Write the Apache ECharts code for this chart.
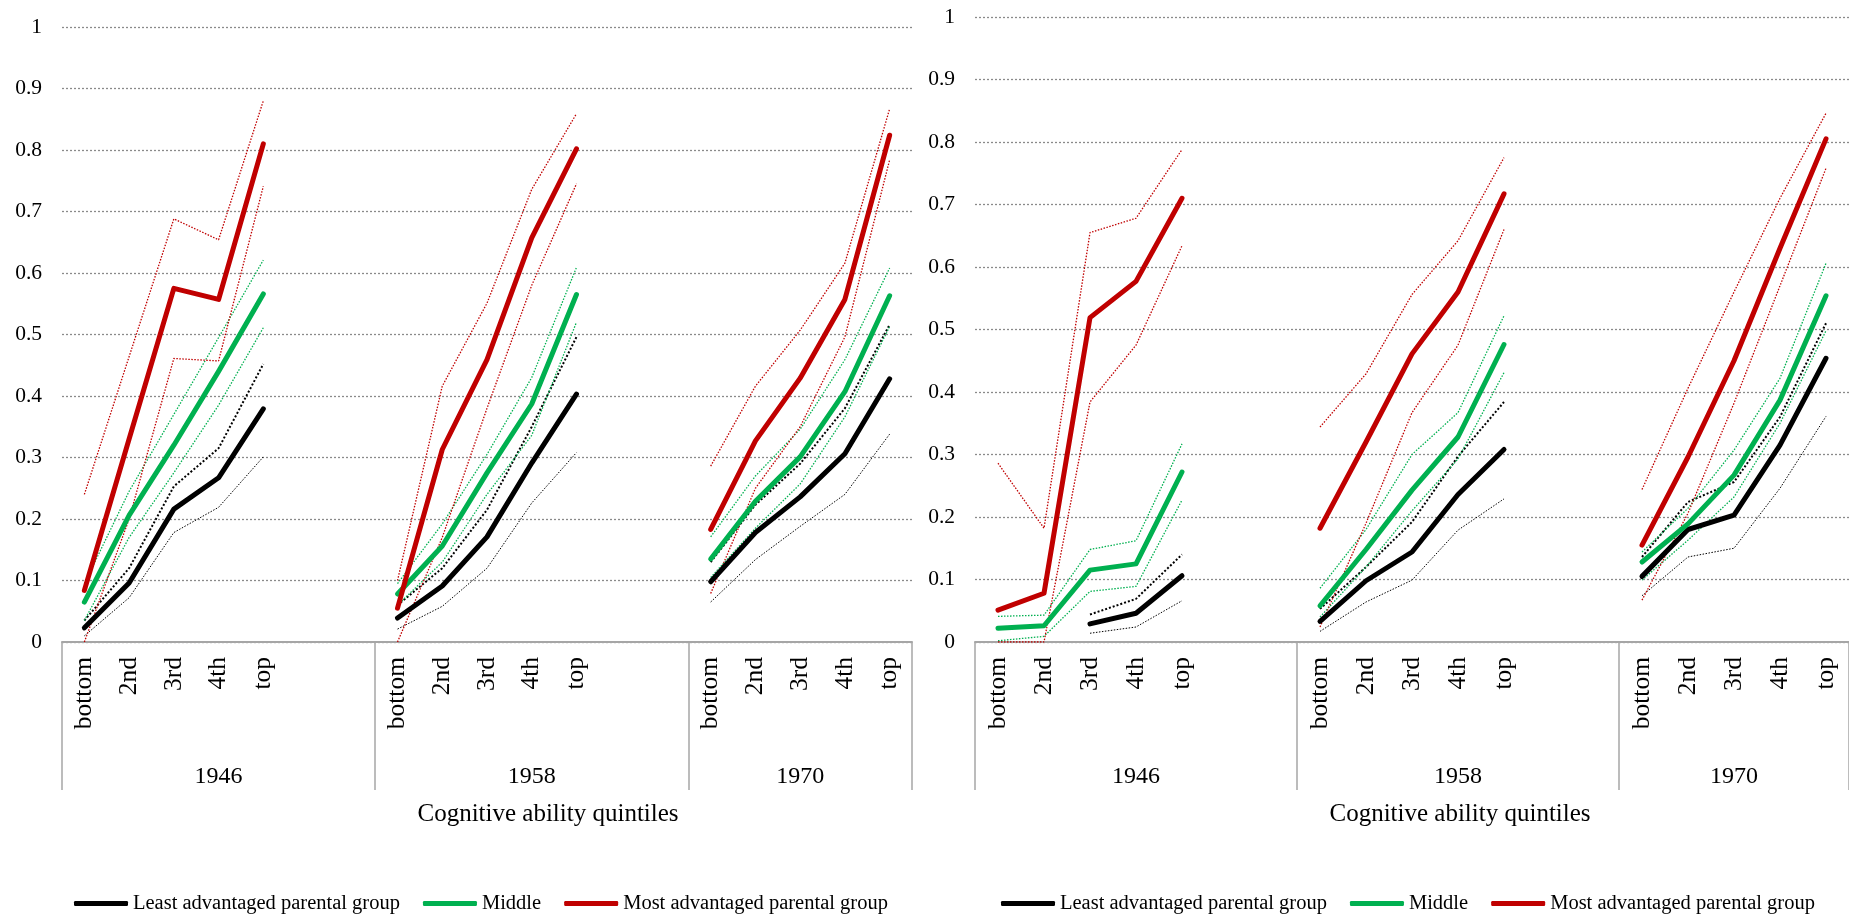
<!DOCTYPE html>
<html>
<head>
<meta charset="utf-8">
<style>
  html, body { margin: 0; padding: 0; background: #ffffff; }
  #chart { width: 1849px; height: 914px; }
</style>
<script src="https://cdn.jsdelivr.net/npm/echarts@6/dist/echarts.min.js"></script>
</head>
<body>
<div id="chart"></div>
<script>
// ---------------- DATA ----------------
const quintiles = ['bottom', '2nd', '3rd', '4th', 'top'];
const cohorts = ['1946', '1958', '1970'];
const groupNames = ['Least advantaged parental group', 'Middle', 'Most advantaged parental group'];
const axisTitle = 'Cognitive ability quintiles';
const yTicks = [0, 0.1, 0.2, 0.3, 0.4, 0.5, 0.6, 0.7, 0.8, 0.9, 1];

// LEFT panel: values per cohort (1946, 1958, 1970), each over the 5 quintiles
const leftLeast      = [[0.023, 0.096, 0.216, 0.267, 0.379], [0.039, 0.091, 0.171, 0.291, 0.403], [0.098, 0.178, 0.236, 0.306, 0.428]];
const leftLeastHi    = [[0.035, 0.120, 0.253, 0.315, 0.452], [0.060, 0.120, 0.215, 0.350, 0.496], [0.130, 0.223, 0.290, 0.380, 0.516]];
const leftLeastLo    = [[0.010, 0.072, 0.178, 0.219, 0.301], [0.021, 0.058, 0.120, 0.226, 0.308], [0.065, 0.134, 0.188, 0.240, 0.338]];
const leftMiddle     = [[0.065, 0.206, 0.320, 0.440, 0.566], [0.078, 0.156, 0.275, 0.387, 0.565], [0.135, 0.229, 0.301, 0.407, 0.563]];
const leftMiddleHi   = [[0.095, 0.245, 0.370, 0.495, 0.621], [0.095, 0.192, 0.305, 0.430, 0.609], [0.171, 0.270, 0.346, 0.459, 0.608]];
const leftMiddleLo   = [[0.035, 0.170, 0.275, 0.385, 0.511], [0.060, 0.130, 0.240, 0.336, 0.520], [0.105, 0.185, 0.257, 0.366, 0.513]];
const leftMost       = [[0.084, 0.330, 0.575, 0.557, 0.810], [0.055, 0.313, 0.459, 0.657, 0.802], [0.183, 0.327, 0.429, 0.557, 0.824]];
const leftMostHi     = [[0.240, 0.464, 0.688, 0.654, 0.880], [0.100, 0.416, 0.551, 0.736, 0.859], [0.286, 0.416, 0.507, 0.616, 0.867]];
const leftMostLo     = [[0.000, 0.200, 0.461, 0.457, 0.741], [0.000, 0.170, 0.380, 0.580, 0.745], [0.079, 0.250, 0.350, 0.496, 0.784]];

// RIGHT panel
const rightLeast     = [[null, null, 0.029, 0.046, 0.106], [0.033, 0.098, 0.144, 0.236, 0.308], [0.105, 0.180, 0.203, 0.315, 0.454]];
const rightLeastHi   = [[null, null, 0.044, 0.069, 0.140], [0.053, 0.120, 0.192, 0.297, 0.384], [0.136, 0.224, 0.256, 0.360, 0.510]];
const rightLeastLo   = [[null, null, 0.014, 0.024, 0.066], [0.017, 0.064, 0.099, 0.179, 0.229], [0.074, 0.136, 0.150, 0.246, 0.361]];
const rightMiddle    = [[0.022, 0.026, 0.115, 0.125, 0.272], [0.058, 0.148, 0.243, 0.328, 0.476], [0.128, 0.189, 0.267, 0.387, 0.554]];
const rightMiddleHi  = [[0.041, 0.043, 0.148, 0.162, 0.317], [0.086, 0.180, 0.300, 0.367, 0.522], [0.144, 0.214, 0.307, 0.422, 0.606]];
const rightMiddleLo  = [[0.002, 0.009, 0.081, 0.089, 0.227], [0.040, 0.120, 0.210, 0.293, 0.431], [0.099, 0.163, 0.232, 0.350, 0.498]];
const rightMost      = [[0.051, 0.078, 0.519, 0.577, 0.710], [0.182, 0.320, 0.461, 0.560, 0.717], [0.155, 0.296, 0.450, 0.630, 0.805]];
const rightMostHi    = [[0.286, 0.182, 0.655, 0.678, 0.788], [0.344, 0.429, 0.556, 0.642, 0.775], [0.244, 0.406, 0.560, 0.710, 0.846]];
const rightMostLo    = [[0.000, 0.000, 0.384, 0.475, 0.634], [0.024, 0.190, 0.367, 0.475, 0.660], [0.067, 0.206, 0.382, 0.570, 0.758]];

// ---------------- BUILD ----------------
const SPACER = 2; // empty categories between cohorts
const FONT = '"Liberation Serif", "DejaVu Serif", serif';
const COLORS = ['#000000', '#00B050', '#C00000'];

const groupStarts = [];
const categories = [];
cohorts.forEach((c, gi) => {
  groupStarts.push(categories.length);
  quintiles.forEach(q => categories.push(q));
  if (gi < cohorts.length - 1) for (let k = 0; k < SPACER; k++) categories.push('');
});
const groupLabels = categories.map(() => '');
cohorts.forEach((c, gi) => {
  const s = groupStarts[gi];
  const span = (gi < cohorts.length - 1) ? quintiles.length + SPACER : quintiles.length;
  groupLabels[s + Math.floor(span / 2)] = c;
});

function flat(perCohort) {
  const out = categories.map(() => null);
  perCohort.forEach((vals, gi) => {
    vals.forEach((v, qi) => { out[groupStarts[gi] + qi] = v; });
  });
  return out;
}

function panelAxes(gridIndex) {
  const main = {
    type: 'category', gridIndex: gridIndex, data: categories, boundaryGap: true,
    axisLine: { show: true, lineStyle: { color: '#A6A6A6', width: 2 } },
    axisTick: { show: false },
    axisLabel: { interval: 0, rotate: 90, margin: 15, fontSize: 25.5, color: '#000', fontFamily: FONT },
    splitLine: { show: false }
  };
  const group = {
    type: 'category', gridIndex: gridIndex, data: groupLabels, boundaryGap: true, position: 'bottom',
    axisLine: { show: false },
    axisTick: { show: true, length: 148, interval: function (idx) { return groupStarts.indexOf(idx) >= 0; },
      lineStyle: { color: '#A6A6A6', width: 1.5 } },
    axisLabel: { interval: 0, margin: 123, fontSize: 24, color: '#000', fontFamily: FONT },
    splitLine: { show: false },
    name: axisTitle, nameLocation: 'middle', nameGap: 160,
    nameTextStyle: { fontSize: 25, color: '#000', fontFamily: FONT, padding: [0, 0, 0, gridIndex === 0 ? 122 : 96] }
  };
  return [main, group];
}

function yAxis(gridIndex) {
  return {
    type: 'value', gridIndex: gridIndex, min: yTicks[0], max: yTicks[yTicks.length - 1], interval: 0.1,
    axisLine: { show: false }, axisTick: { show: false },
    axisLabel: { margin: 20, fontSize: 21.5, color: '#000', fontFamily: FONT },
    splitLine: { show: true, lineStyle: { color: '#8a8a8a', width: 1.3, type: [2, 2] } }
  };
}

const series = [];
function addPanel(xAxisIndex, yAxisIndex, sets) {
  sets.forEach((set, k) => {
    const color = COLORS[k];
    series.push({
      name: groupNames[k] + ' (upper CI)', type: 'line', xAxisIndex, yAxisIndex,
      data: flat(set.hi), symbol: 'none', connectNulls: false, z: 2, silent: true,
      lineStyle: { color: color, width: k === 0 ? 2 : 1.3, type: k === 0 ? [2, 2] : [1.5, 1.5] }
    });
    series.push({
      name: groupNames[k] + ' (lower CI)', type: 'line', xAxisIndex, yAxisIndex,
      data: flat(set.lo), symbol: 'none', connectNulls: false, z: 2, silent: true,
      lineStyle: { color: color, width: k === 0 ? 1 : 1.3, type: [1.5, 1.5] }
    });
  });
  sets.forEach((set, k) => {
    series.push({
      name: groupNames[k], type: 'line', xAxisIndex, yAxisIndex,
      data: flat(set.mid), symbol: 'none', connectNulls: false, z: 3,
      itemStyle: { color: COLORS[k] },
      lineStyle: { color: COLORS[k], width: 5, cap: 'round', join: 'round' }
    });
  });
}

addPanel(0, 0, [
  { mid: leftLeast, hi: leftLeastHi, lo: leftLeastLo },
  { mid: leftMiddle, hi: leftMiddleHi, lo: leftMiddleLo },
  { mid: leftMost, hi: leftMostHi, lo: leftMostLo }
]);
addPanel(2, 1, [
  { mid: rightLeast, hi: rightLeastHi, lo: rightLeastLo },
  { mid: rightMiddle, hi: rightMiddleHi, lo: rightMiddleLo },
  { mid: rightMost, hi: rightMostHi, lo: rightMostLo }
]);

function legend(left) {
  return {
    data: groupNames.map((n, k) => ({ name: n, itemStyle: { color: COLORS[k] } })),
    left: left, top: 888, icon: 'roundRect', itemWidth: 54, itemHeight: 5, itemGap: 23,
    textStyle: { fontSize: 20.5, color: '#000', fontFamily: FONT }
  };
}

const leftAxes = panelAxes(0);
const rightAxes = panelAxes(1);

const option = {
  animation: false,
  backgroundColor: '#ffffff',
  textStyle: { fontFamily: FONT },
  grid: [
    { left: 62, right: 937, top: 27, bottom: 272, containLabel: false },
    { left: 975, right: -1, top: 17, bottom: 272, containLabel: false }
  ],
  xAxis: [leftAxes[0], leftAxes[1], rightAxes[0], rightAxes[1]],
  yAxis: [yAxis(0), yAxis(1)],
  legend: [legend(69), legend(996)],
  series: series
};

const chart = echarts.init(document.getElementById('chart'), null, { renderer: 'canvas' });
chart.setOption(option);
</script>
</body>
</html>
